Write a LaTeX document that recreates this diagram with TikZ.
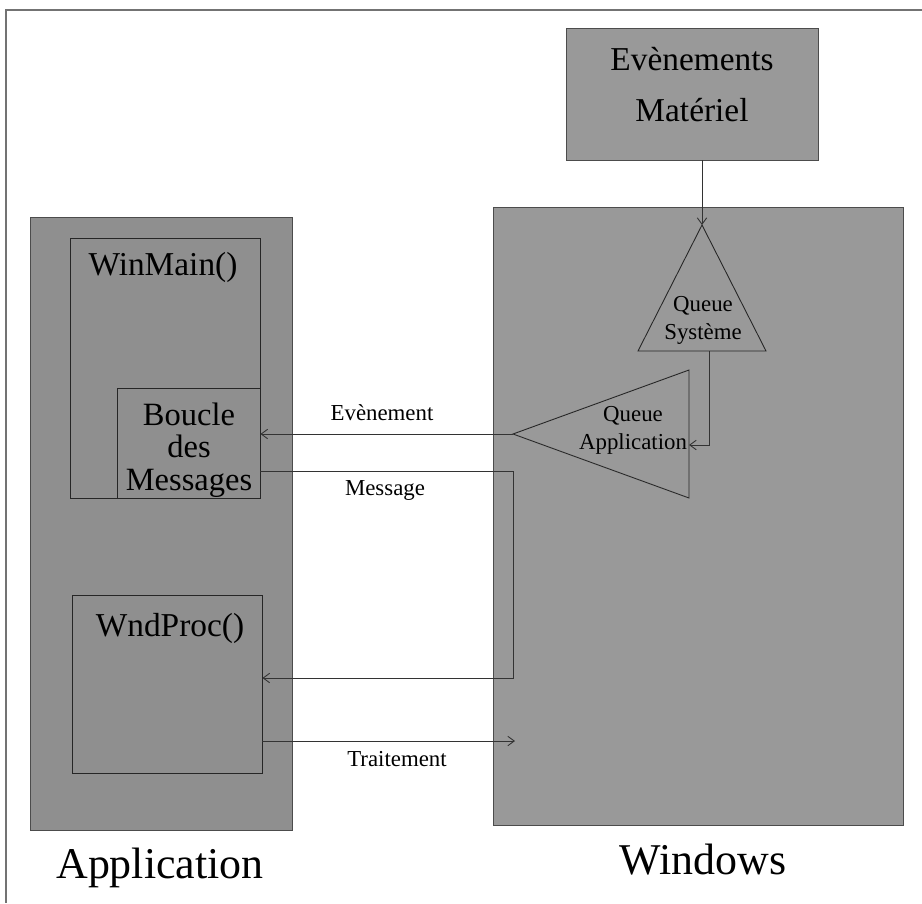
\documentclass[tikz,border=0pt]{standalone}
\usepackage{fontspec}
\setmainfont{Liberation Serif}
\usepackage{tikz}
\usetikzlibrary{arrows.meta, positioning, calc, fit}

\begin{document}
\begin{tikzpicture}[x=0.02cm, y=-0.02cm, line width=0.5pt,
    >={Straight Barb[length=1.3mm, width=1.9mm]},
    panel/.style={draw=black!70, fill=black!40, inner sep=0pt},
    box/.style={draw=black!85, inner sep=0pt},
    big/.style={font=\fontsize{25}{30}\selectfont},
    title/.style={font=\fontsize{19}{17}\selectfont, align=center},
    small/.style={font=\fontsize{13}{16}\selectfont, align=center}]
  \useasboundingbox (0,0) rectangle (922,903);
  \draw[black!55, line width=0.8pt] (922,10) -- (6,10) -- (6,903);
  % panels
  \node[panel, fill=black!44, fit={(30,217) (292,830)}] (app) {};
  \node[panel, fit={(493,207) (903,825)}] (win) {};
  \node[panel, fit={(566,28) (818,160)}] (hw) {};
  \node[title, font=\fontsize{19}{29}\selectfont] (hwtxt) at (692,85) {Evènements\\Matériel};
  % application side
  \node[box, fit={(70,238) (260,498)}] (winmain) {};
  \node[box, fit={(117,388) (260,498)}] (boucle) {};
  \node[box, fit={(72,595) (262,773)}] (wndproc) {};
  \node[title] (winmaintxt) at (163,267) {WinMain()};
  \node[title, font=\fontsize{18.5}{18.5}\selectfont] (bouclet) at (189,450) {Boucle\\des\\Messages};
  \node[title] (wndproctxt) at (170,628) {WndProc()};
  % queues
  \coordinate (sysTop) at (702,225);
  \coordinate (sysL) at (638,351);
  \coordinate (sysR) at (766,351);
  \coordinate (sysOut) at (709,351);
  \draw[black!85] (sysTop) -- (sysL) -- (sysR) -- cycle;
  \node[small] (systxt) at (703,320) {Queue\\Système};
  \coordinate (appTip) at (513,434);
  \coordinate (appT) at (689,370);
  \coordinate (appB) at (689,498);
  \coordinate (appIn) at (689,445);
  \draw[black!85] (appTip) -- (appT) -- (appB) -- cycle;
  \node[small] (apptxt) at (633,430) {Queue\\Application};
  % connectors
  \draw[->, black!80] (sysTop |- hw.south) -- (sysTop);
  \draw[->, black!80] (sysOut) |- (appIn);
  \draw[->, black!80] (appTip) -- (appTip -| boucle.east);
  \coordinate (msgA) at (513,471);
  \coordinate (msgB) at (513,678);
  \draw[->, black!80] (msgA -| boucle.east) -- (msgA) -- (msgB) -- (msgB -| wndproc.east);
  \coordinate (trtEnd) at (515,741);
  \draw[->, black!80] (trtEnd -| wndproc.east) -- (trtEnd);
  \node[small] (evt) at (382,413) {Evènement};
  \node[small] (msg) at (385,490) {Message};
  \node[small] (trt) at (397,759) {Traitement};
  % captions
  \node[big] (apptitle) at (160,868) {Application};
  \node[big] (wintitle) at (703,860) {Windows};
\end{tikzpicture}
\end{document}
